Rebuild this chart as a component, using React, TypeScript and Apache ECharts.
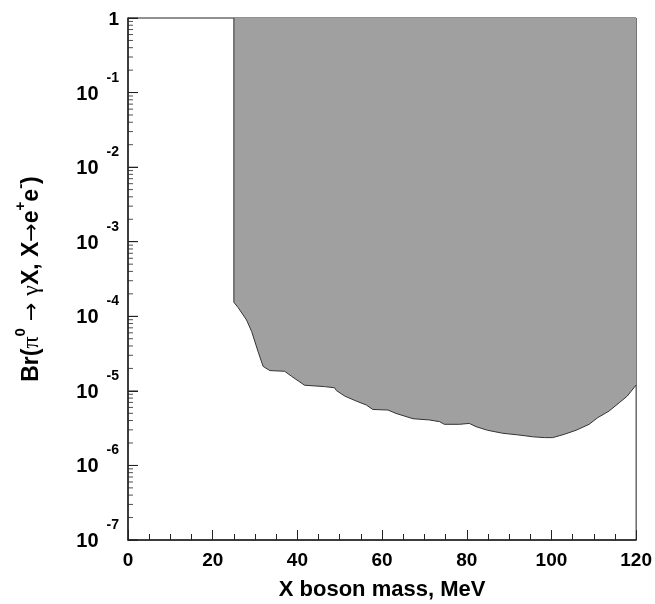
import React, { useEffect, useRef } from "react";
import * as echarts from "echarts";

// Excluded-region boundary (X boson mass in MeV, branching-ratio upper limit)
const massValues = [
  25, 25, 26.0, 28.0, 29.2, 30.7, 31.9, 33.5, 37.0, 38.6,
  41.7, 46.4, 48.8, 49.2, 51.2, 53.9, 56.3, 57.8, 61.4, 63.3,
  67.3, 71.2, 73.6, 74.7, 78.3, 80.6, 82.2, 84.9, 88.5, 92.8,
  95.6, 98.3, 100.3, 103.0, 105.8, 108.9, 110.9, 113.6, 116.0, 117.9,
  120,
];
const brLimit = [
  1, 1.54e-4, 1.31e-4, 8.9e-5, 6.25e-5, 3.38e-5, 2.13e-5, 1.87e-5, 1.83e-5, 1.57e-5,
  1.19e-5, 1.14e-5, 1.1e-5, 1.01e-5, 8.5e-6, 7.3e-6, 6.45e-6, 5.63e-6, 5.53e-6, 4.98e-6,
  4.23e-6, 4.07e-6, 3.86e-6, 3.56e-6, 3.56e-6, 3.66e-6, 3.31e-6, 2.96e-6, 2.7e-6, 2.54e-6,
  2.42e-6, 2.36e-6, 2.36e-6, 2.61e-6, 2.96e-6, 3.56e-6, 4.36e-6, 5.36e-6, 6.92e-6, 8.5e-6,
  1.2e-5,
];

const yDecadeExponents = [-7, -6, -5, -4, -3, -2, -1, 0];
const yMinorMantissas = [2, 3, 4, 5, 6, 7, 8, 9];
const xTitle = "X boson mass, MeV";

const FONT = "'Liberation Sans', Arial, Helvetica, sans-serif";
const SERIF = "'Liberation Serif', 'DejaVu Serif', serif";
const ARROW = "'DejaVu Sans', sans-serif";

export default function App() {
  const ref = useRef<HTMLDivElement>(null);
  useEffect(() => {
    if (!ref.current) return;
    const chart = echarts.init(ref.current, null, { renderer: "svg" });
    const minorTicks: number[][] = [];
    yDecadeExponents.slice(0, -1).forEach((e) => {
      yMinorMantissas.forEach((m) => minorTicks.push([0, m * Math.pow(10, e)]));
    });
    const majorTicks = yDecadeExponents.map((e) => [0, Math.pow(10, e)]);
    const data = massValues.map((x, i) => [x, brLimit[i]]);
    const yMin = Math.pow(10, yDecadeExponents[0]);
    const yMax = Math.pow(10, yDecadeExponents[yDecadeExponents.length - 1]);

    chart.setOption({
      animation: false,
      grid: {
        left: 128,
        top: 18,
        width: 509,
        height: 525,
        show: true,
        borderColor: "#222",
        borderWidth: 1,
      },
      xAxis: {
        type: "value",
        min: 0,
        max: 120,
        interval: 20,
        name: xTitle,
        nameLocation: "middle",
        nameGap: 37,
        nameTextStyle: { fontFamily: FONT, fontWeight: "bold", fontSize: 22, color: "#000" },
        axisLine: { show: true, lineStyle: { color: "#222", width: 1.5 } },
        axisTick: { show: true, inside: true, length: 10, lineStyle: { color: "#222", width: 1 } },
        minorTick: { show: true, splitNumber: 4, length: 6, lineStyle: { color: "#222", width: 1 } },
        splitLine: { show: false },
        axisLabel: { fontFamily: FONT, fontWeight: "bold", fontSize: 19, color: "#000", margin: 10 },
      },
      yAxis: {
        type: "log",
        min: yMin,
        max: yMax,
        interval: 1,
        name: "{m|Br(}{g|π}{u|0}{a| → }{g|γ}{m|X, X}{a|→}{m|e}{u|+}{m|e}{u|-}{m|)}",
        nameLocation: "middle",
        nameGap: 80,
        nameTextStyle: {
          rich: {
            m: { fontFamily: FONT, fontWeight: "bold", fontSize: 23, lineHeight: 36, color: "#000" },
            g: { fontFamily: SERIF, fontSize: 24, lineHeight: 36, color: "#000" },
            a: { fontFamily: ARROW, fontSize: 22, lineHeight: 36, color: "#000" },
            u: { fontFamily: FONT, fontWeight: "bold", fontSize: 15, lineHeight: 15, verticalAlign: "top", color: "#000" },
          },
        },
        axisLine: { show: true, lineStyle: { color: "#222", width: 1.5 } },
        axisTick: { show: true, inside: true, length: 10, lineStyle: { color: "#222", width: 1 } },
        splitLine: { show: false },
        axisLabel: {
          margin: 9,
          formatter: (v: number) => {
            const e = Math.round(Math.log10(v));
            return e === 0 ? "{one|1}" : `{b|10}{s|${e}}`;
          },
          rich: {
            one: { fontFamily: FONT, fontWeight: "bold", fontSize: 19, color: "#000" },
            b: { fontFamily: FONT, fontWeight: "bold", fontSize: 20, lineHeight: 46, verticalAlign: "middle", color: "#000" },
            s: { fontFamily: FONT, fontWeight: "bold", fontSize: 14, lineHeight: 16, verticalAlign: "top", padding: [0, 0, 0, 8], color: "#000" },
          },
        },
      },
      series: [
        {
          type: "line",
          data,
          showSymbol: false,
          symbol: "none",
          lineStyle: { color: "#333", width: 1 },
          areaStyle: { color: "#a0a0a0", opacity: 1, origin: "end" },
          z: 1,
        },
        {
          type: "scatter",
          data: majorTicks,
          clip: false,
          z: 10,
          symbol: "rect",
          symbolSize: [10, 1],
          symbolOffset: [5, 0],
          itemStyle: { color: "#222" },
        },
        {
          type: "scatter",
          data: minorTicks,
          clip: false,
          z: 10,
          symbol: "rect",
          symbolSize: [5, 1],
          symbolOffset: [2.5, 0],
          itemStyle: { color: "#222" },
        },
      ],
    });
    return () => chart.dispose();
  }, []);
  return <div ref={ref} style={{ position: "fixed", left: 0, top: 0, width: 655, height: 604 }} />;
}
